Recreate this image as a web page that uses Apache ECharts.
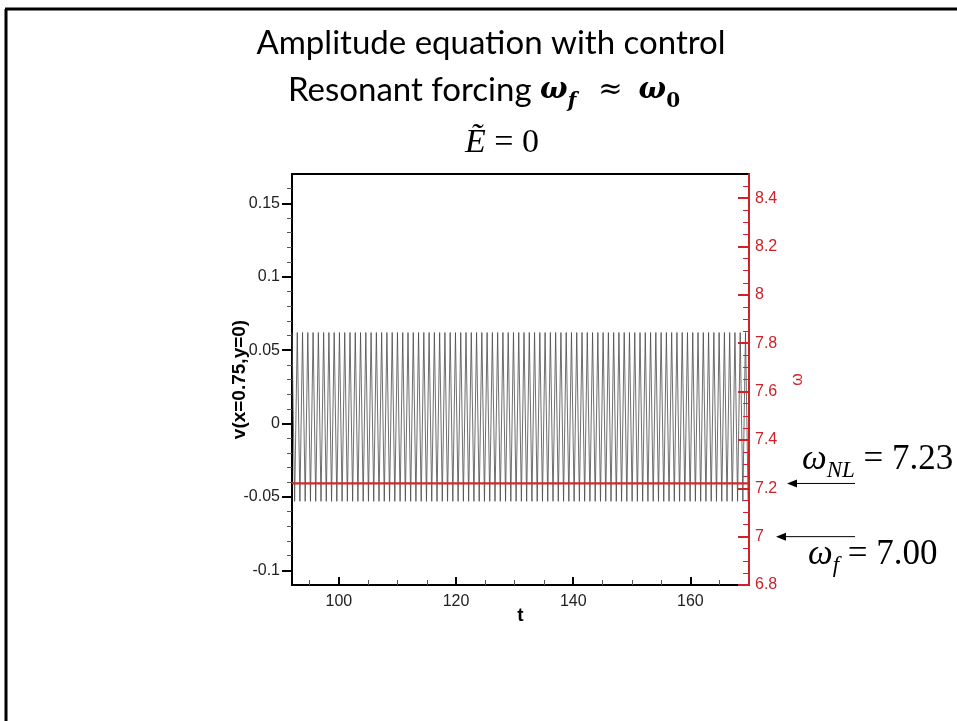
<!DOCTYPE html>
<html><head><meta charset="utf-8">
<script src="https://cdn.jsdelivr.net/npm/echarts@6/dist/echarts.min.js"></script>
<style>html,body{margin:0;padding:0;background:#fff}#c{width:957px;height:721px}</style>
</head><body><div id="c"></div>
<script>
// turning points (peaks/troughs) of v(x=0.75,y=0)
const tTurn = [
92,92.45,92.9,93.35,93.8,94.25,94.7,95.15,95.6,96.05,96.5,96.95,97.4,97.85,98.3,98.75,99.2,99.65,100.1,100.55,
101,101.45,101.9,102.35,102.8,103.25,103.7,104.15,104.6,105.05,105.5,105.95,106.4,106.85,107.3,107.75,108.2,108.65,109.1,109.55,
110,110.45,110.9,111.35,111.8,112.25,112.7,113.15,113.6,114.05,114.5,114.95,115.4,115.85,116.3,116.75,117.2,117.65,118.1,118.55,
119,119.45,119.9,120.35,120.8,121.25,121.7,122.15,122.6,123.05,123.5,123.95,124.4,124.85,125.3,125.75,126.2,126.65,127.1,127.55,
128,128.45,128.9,129.35,129.8,130.25,130.7,131.15,131.6,132.05,132.5,132.95,133.4,133.85,134.3,134.75,135.2,135.65,136.1,136.55,
137,137.45,137.9,138.35,138.8,139.25,139.7,140.15,140.6,141.05,141.5,141.95,142.4,142.85,143.3,143.75,144.2,144.65,145.1,145.55,
146,146.45,146.9,147.35,147.8,148.25,148.7,149.15,149.6,150.05,150.5,150.95,151.4,151.85,152.3,152.75,153.2,153.65,154.1,154.55,
155,155.45,155.9,156.35,156.8,157.25,157.7,158.15,158.6,159.05,159.5,159.95,160.4,160.85,161.3,161.75,162.2,162.65,163.1,163.55,
164,164.45,164.9,165.35,165.8,166.25,166.7,167.15,167.6,168.05,168.5,168.95,169.4,169.85
];
const vTurn = [
0.062,-0.053,0.062,-0.053,0.062,-0.053,0.062,-0.053,0.062,-0.053,0.062,-0.053,0.062,-0.053,0.062,-0.053,0.062,-0.053,0.062,-0.053,
0.062,-0.053,0.062,-0.053,0.062,-0.053,0.062,-0.053,0.062,-0.053,0.062,-0.053,0.062,-0.053,0.062,-0.053,0.062,-0.053,0.062,-0.053,
0.062,-0.053,0.062,-0.053,0.062,-0.053,0.062,-0.053,0.062,-0.053,0.062,-0.053,0.062,-0.053,0.062,-0.053,0.062,-0.053,0.062,-0.053,
0.062,-0.053,0.062,-0.053,0.062,-0.053,0.062,-0.053,0.062,-0.053,0.062,-0.053,0.062,-0.053,0.062,-0.053,0.062,-0.053,0.062,-0.053,
0.062,-0.053,0.062,-0.053,0.062,-0.053,0.062,-0.053,0.062,-0.053,0.062,-0.053,0.062,-0.053,0.062,-0.053,0.062,-0.053,0.062,-0.053,
0.062,-0.053,0.062,-0.053,0.062,-0.053,0.062,-0.053,0.062,-0.053,0.062,-0.053,0.062,-0.053,0.062,-0.053,0.062,-0.053,0.062,-0.053,
0.062,-0.053,0.062,-0.053,0.062,-0.053,0.062,-0.053,0.062,-0.053,0.062,-0.053,0.062,-0.053,0.062,-0.053,0.062,-0.053,0.062,-0.053,
0.062,-0.053,0.062,-0.053,0.062,-0.053,0.062,-0.053,0.062,-0.053,0.062,-0.053,0.062,-0.053,0.062,-0.053,0.062,-0.053,0.062,-0.053,
0.062,-0.053,0.062,-0.053,0.062,-0.053,0.062,-0.053,0.062,-0.053,0.062,-0.053,0.062,-0.053
];
// frequency omega (right axis)
const omegaT = [92, 170];
const omegaV = [7.22, 7.22];
// tick labels
const xTicks = [100, 120, 140, 160];
const vTicks = [-0.1, -0.05, 0, 0.05, 0.1, 0.15];
const wTicks = [6.8, 7, 7.2, 7.4, 7.6, 7.8, 8, 8.2, 8.4];
// annotations: subscript, printed value, value pointed at on the omega axis
const annSub = ['NL', 'f'];
const annText = ['7.23', '7.00'];
const annAt = [7.22, 7.0];

const RED = '#cc2229';
const chart = echarts.init(document.getElementById('c'), null, {renderer: 'canvas'});
const lblFont = {fontFamily: 'Liberation Sans', fontSize: 16, color: '#222'};

chart.setOption({
  animation: false,
  backgroundColor: '#fff',
  grid: {left: 292, right: 208, top: 174, bottom: 136, show: true, borderColor: '#000', borderWidth: 2, backgroundColor: 'transparent'},
  xAxis: {
    type: 'value', min: 92, max: 170, splitNumber: 4,
    name: 't', nameLocation: 'middle', nameGap: 21, nameMoveOverlap: false,
    nameTextStyle: {fontFamily: 'Liberation Sans', fontWeight: 'bold', fontSize: 19, color: '#000'},
    axisLine: {show: true, onZero: false, lineStyle: {color: '#000', width: 2}},
    axisTick: {show: true, inside: true, length: 8, customValues: xTicks, lineStyle: {color: '#000', width: 2}},
    minorTick: {show: true, splitNumber: 4, length: 5, lineStyle: {color: '#555', width: 1}},
    axisLabel: Object.assign({customValues: xTicks, margin: 9}, lblFont),
    splitLine: {show: false}
  },
  yAxis: [{
    type: 'value', min: -0.11, max: 0.17, splitNumber: 5, position: 'left',
    name: 'v(x=0.75,y=0)', nameLocation: 'middle', nameGap: 43, nameMoveOverlap: false,
    nameTextStyle: {fontFamily: 'Liberation Sans', fontWeight: 'bold', fontSize: 19, color: '#000'},
    axisLine: {show: true, onZero: false, lineStyle: {color: '#000', width: 2}},
    axisTick: {show: true, inside: false, length: 10, customValues: vTicks, lineStyle: {color: '#000', width: 2}},
    minorTick: {show: true, splitNumber: 5, length: 5, lineStyle: {color: '#555', width: 1}},
    axisLabel: Object.assign({customValues: vTicks, margin: 12}, lblFont),
    splitLine: {show: false}
  }, {
    type: 'value', min: 6.8, max: 8.5, interval: 0.2, position: 'right', z: 5,
    name: 'ω', nameLocation: 'middle', nameGap: 41, nameRotate: 90, nameMoveOverlap: false,
    nameTextStyle: {fontFamily: 'Liberation Sans', fontSize: 16, color: RED},
    axisLine: {show: true, onZero: false, lineStyle: {color: RED, width: 2}},
    axisTick: {show: true, inside: true, length: 11, customValues: wTicks, lineStyle: {color: RED, width: 2}},
    minorTick: {show: true, splitNumber: 4, length: 6, lineStyle: {color: RED, width: 1}},
    axisLabel: {customValues: wTicks, margin: 6, fontFamily: 'Liberation Sans', fontSize: 16, color: RED},
    splitLine: {show: false}
  }],
  series: [{
    type: 'line', yAxisIndex: 0, showSymbol: false, clip: true, z: 2,
    data: tTurn.map((t, i) => [t, vTurn[i]]),
    lineStyle: {color: '#4a4a4a', width: 0.8}
  }, {
    type: 'line', yAxisIndex: 1, showSymbol: false, clip: true, z: 3,
    data: omegaT.map((t, i) => [t, omegaV[i]]),
    lineStyle: {color: '#d12a2a', width: 2.2}
  }]
});

const serif = 'DejaVu Serif';
const graphics = [
  {type: 'line', shape: {x1: 6, y1: 9, x2: 6, y2: 721}, style: {stroke: '#000', lineWidth: 3}},
  {type: 'line', shape: {x1: 5, y1: 9, x2: 957, y2: 9}, style: {stroke: '#000', lineWidth: 3}},
  {type: 'text', x: 491, y: 43, style: {text: 'Amplitude equation with control', fontFamily: 'Lato', fontSize: 33, fill: '#000', textAlign: 'center', textVerticalAlign: 'middle'}},
  {type: 'text', x: 484, y: 90, style: {
    text: 'Resonant forcing {w|ω}{s|f}{n|≈}{w|ω}{z|0}',
    fontFamily: 'Lato', fontSize: 33, fill: '#000', lineHeight: 44, textAlign: 'center', textVerticalAlign: 'middle',
    rich: {
      w: {fontFamily: serif, fontStyle: 'italic', fontWeight: 'bold', fontSize: 29, lineHeight: 44, fill: '#000'},
      s: {fontFamily: serif, fontStyle: 'italic', fontWeight: 'bold', fontSize: 20, lineHeight: 26, verticalAlign: 'bottom', fill: '#000'},
      z: {fontFamily: serif, fontWeight: 'bold', fontSize: 20, lineHeight: 26, verticalAlign: 'bottom', fill: '#000'},
      n: {fontFamily: serif, fontSize: 29, lineHeight: 44, padding: [0, 16, 0, 22], fill: '#000'}
    }}},
  {type: 'text', x: 502, y: 143, style: {
    text: '{e|Ẽ}{n| = 0}', textAlign: 'center', textVerticalAlign: 'middle',
    rich: {
      e: {fontFamily: 'Liberation Serif', fontStyle: 'italic', fontSize: 34, lineHeight: 44, fill: '#000'},
      n: {fontFamily: 'Liberation Serif', fontSize: 34, lineHeight: 44, fill: '#000'}
    }}}
];
const annX = [[802, 855, 787], [808, 855, 776]];
const annY = [460, 555];
for (let i = 0; i < annSub.length; i++) {
  const y = chart.convertToPixel({yAxisIndex: 1}, annAt[i]);
  const [tx, x1, x2] = annX[i];
  graphics.push({type: 'line', shape: {x1: x1, y1: y, x2: x2 + 8, y2: y}, style: {stroke: '#000', lineWidth: 1}});
  graphics.push({type: 'polygon', shape: {points: [[x2, y], [x2 + 10, y - 4], [x2 + 10, y + 4]]}, style: {fill: '#000'}});
  graphics.push({type: 'text', x: tx, y: annY[i], style: {
    text: '{w|ω}{s|' + annSub[i] + '}{n| = ' + annText[i] + '}', textAlign: 'left', textVerticalAlign: 'middle',
    rich: {
      w: {fontFamily: 'Liberation Serif', fontStyle: 'italic', fontSize: 35, lineHeight: 44, fill: '#000'},
      s: {fontFamily: 'Liberation Serif', fontStyle: 'italic', fontSize: 23, lineHeight: 28, verticalAlign: 'bottom', fill: '#000'},
      n: {fontFamily: 'Liberation Serif', fontSize: 35, lineHeight: 44, fill: '#000'}
    }}});
}
chart.setOption({graphic: graphics});
</script>
</body></html>
